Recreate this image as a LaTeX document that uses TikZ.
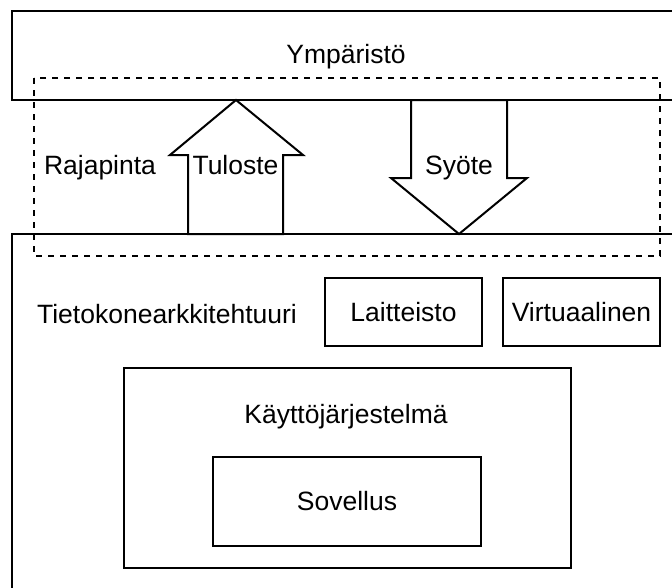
\documentclass[tikz,border=0pt]{standalone}
\usepackage{fontspec}
\setmainfont{Liberation Sans}
\begin{document}
\begin{tikzpicture}[x=1pt,y=-1pt,
  every node/.style={font=\fontsize{26.5}{30}\selectfont, inner sep=0pt, outer sep=0pt},
  box/.style={draw=black, line width=2pt, fill=white, rectangle, anchor=north west},
  label/.style={anchor=base},
  bigarrow/.style={draw=black, line width=2pt, fill=white, line join=miter},
  boundary/.style={draw=black, line width=2pt, dash pattern=on 6pt off 6pt}]
  \useasboundingbox (0,0) rectangle (672,587);
  \fill[white] (0,0) rectangle (672,587);
  \clip (0,0) rectangle (672,587);

  % environment and computer
  \node[box, minimum width=668pt, minimum height=89pt] (env) at (12,11) {};
  \node[label] (envlbl) at (346,63) {Ympäristö};
  \node[box, minimum width=668pt, minimum height=420pt] (comp) at (12,234) {};
  \node[label] (complbl) at (167,323) {Tietokonearkkitehtuuri};

  % hardware and virtual machine
  \node[box, minimum width=157pt, minimum height=68pt] (hw) at (325,278) {Laitteisto};
  \node[box, minimum width=157pt, minimum height=68pt] (vm) at (503,278) {Virtuaalinen};

  % operating system and application
  \node[box, minimum width=447pt, minimum height=200pt] (os) at (124,368) {};
  \node[label] (oslbl) at (346,423) {Käyttöjärjestelmä};
  \node[box, minimum width=268pt, minimum height=89pt] (app) at (213,457) {Sovellus};

  % output arrow (up)
  \coordinate (outtip) at (236,100);
  \draw[bigarrow] (188,234) -- (188,155) -- (170,155) -- (outtip)
    -- (303,155) -- (283,155) -- (283,234) -- cycle;
  \node[label] (outlbl) at (235.5,174) {Tuloste};

  % input arrow (down)
  \coordinate (intip) at (459,234);
  \draw[bigarrow] (411,100) -- (411,178) -- (391,178) -- (intip)
    -- (527,178) -- (507,178) -- (507,100) -- cycle;
  \node[label] (inlbl) at (459,174) {Syöte};

  % interface boundary
  \draw[boundary] (34,78) rectangle (660,256);
  \node[label] (iflbl) at (100,174) {Rajapinta};
\end{tikzpicture}
\end{document}
